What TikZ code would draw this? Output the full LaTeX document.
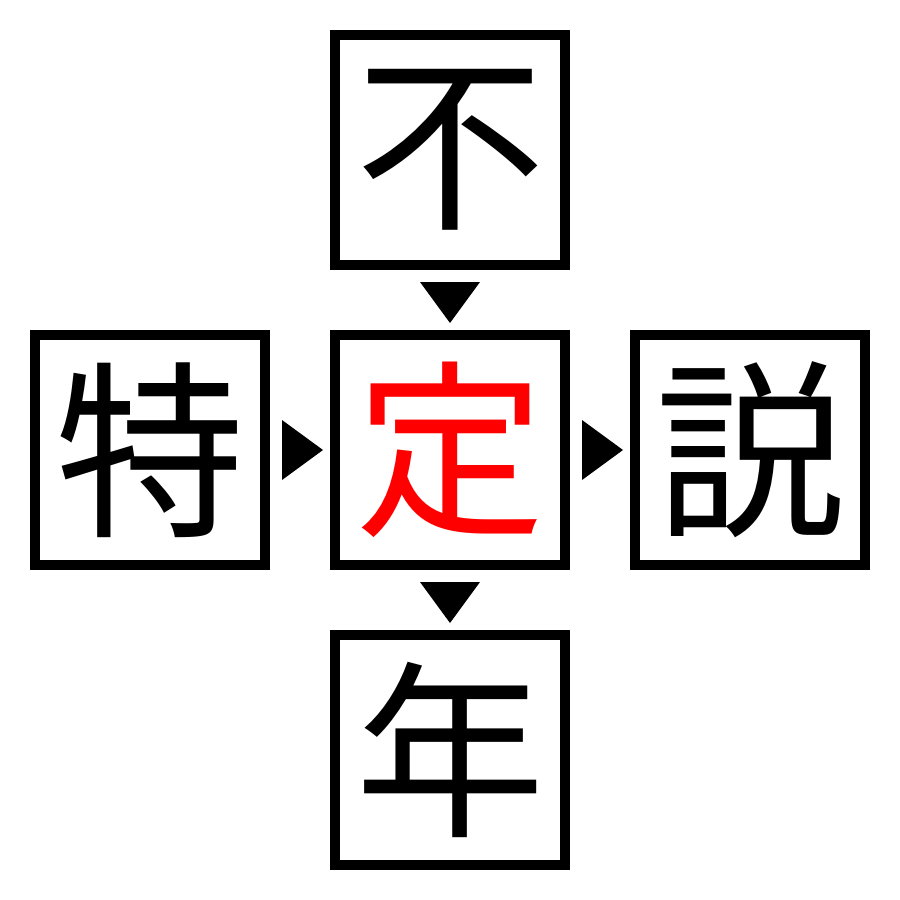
\documentclass[tikz,border=0pt]{standalone}
\usepackage{fontspec}
\newfontfamily\cjk{Noto Sans CJK JP}
\begin{document}
\begin{tikzpicture}[x=0.01cm,y=-0.01cm,
  kbox/.style={draw=black,line width=0.1cm,minimum size=2.3cm,inner sep=0pt,
    font=\cjk\fontsize{54pt}{54pt}\selectfont},
  tri/.style={fill=black}]
\useasboundingbox (0,0) rectangle (900,900);
\node[kbox] (top) at (450,150) {不};
\node[kbox] (left) at (150,450) {特};
\node[kbox,text=red] (mid) at (450,450) {定};
\node[kbox] (right) at (750,450) {説};
\node[kbox] (bot) at (450,750) {年};
\fill[tri] (420,282) -- (480,282) -- (450,323) -- cycle;
\fill[tri] (420,582) -- (480,582) -- (450,623) -- cycle;
\fill[tri] (282,420) -- (282,480) -- (323,450) -- cycle;
\fill[tri] (582,420) -- (582,480) -- (623,450) -- cycle;
\end{tikzpicture}
\end{document}
